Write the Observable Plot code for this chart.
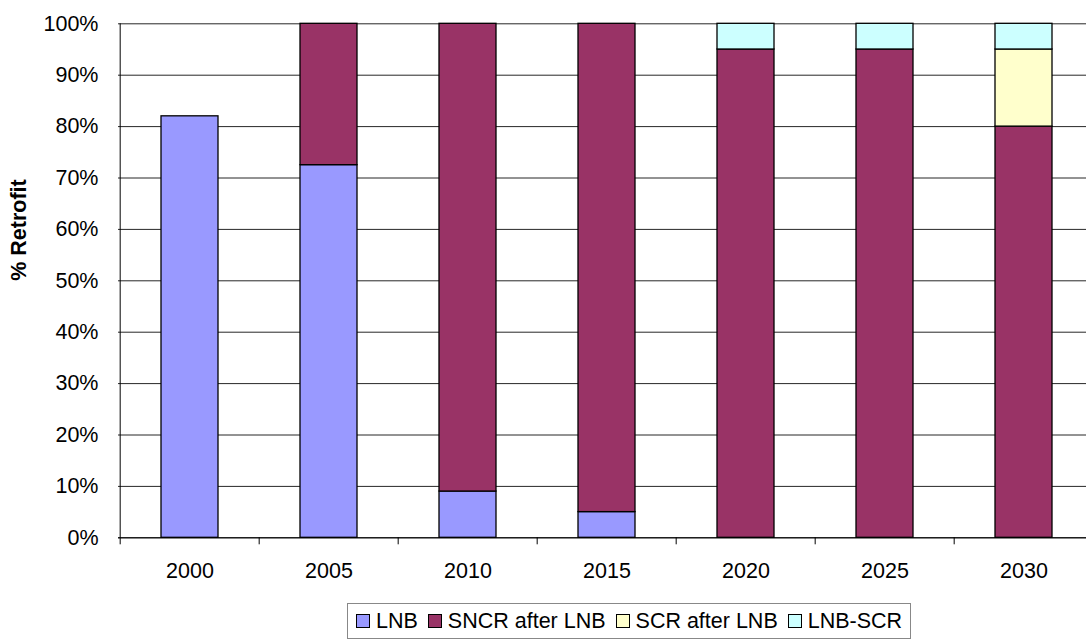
<!DOCTYPE html>
<html>
<head>
<meta charset="utf-8">
<script src="https://cdn.jsdelivr.net/npm/d3@7"></script>
<script src="https://cdn.jsdelivr.net/npm/@observablehq/plot@0.6"></script>
<style>
  html, body { margin: 0; padding: 0; background: #fff; overflow: hidden; }
  #wrap { position: relative; width: 1086px; height: 639px; font-family: Arial, "Liberation Sans", sans-serif; }
  #legend { position: absolute; left: 347px; top: 603px; height: 36px; box-sizing: border-box;
    border: 1px solid #888; display: flex; align-items: center; padding: 0 8px 0 8px; font-size: 21.5px; color: #000; white-space: nowrap; }
  .item { display: flex; align-items: center; margin-right: 10px; }
  .item:last-child { margin-right: 0; }
  .sw { width: 12px; height: 12px; border: 1px solid #000; margin-right: 6px; }
</style>
</head>
<body>
<div id="wrap">
  <div id="chart"></div>
  <div id="legend"></div>
</div>
<script>
const years = ["2000", "2005", "2010", "2015", "2020", "2025", "2030"];
const seriesNames = ["LNB", "SNCR after LNB", "SCR after LNB", "LNB-SCR"];
const seriesColors = ["#9999FF", "#993366", "#FFFFCC", "#CCFFFF"];
const lnb       = [82, 72.5, 9, 5, 0, 0, 0];
const sncr      = [0, 27.5, 91, 95, 95, 95, 80];
const scrAfter  = [0, 0, 0, 0, 0, 0, 15];
const lnbScr    = [0, 0, 0, 0, 5, 5, 5];
const yTicks = [0, 10, 20, 30, 40, 50, 60, 70, 80, 90, 100];
const yLabel = "% Retrofit";

const seriesValues = [lnb, sncr, scrAfter, lnbScr];
const data = [];
seriesNames.forEach((s, si) => {
  years.forEach((yr, i) => {
    const v = seriesValues[si][i];
    if (v > 0) data.push({year: yr, series: s, value: v});
  });
});

const W = 1086, H = 600;
const x0 = 118, x1 = 1095.5;
const step = (x1 - x0) / years.length;
const yTop = 23.3, yBot = 537.3;
const tickUnits = 7 / ((yBot - yTop) / 100);

const chart = Plot.plot({
  width: W,
  height: H,
  marginLeft: x0,
  marginRight: 0,
  marginTop: yTop,
  marginBottom: H - yBot,
  style: {fontFamily: 'Arial, "Liberation Sans", sans-serif', fontSize: "21.5px", color: "#000", background: "#fff"},
  x: {type: "band", domain: years, range: [x0, x1], paddingInner: 0.59, paddingOuter: 0.295, align: 0.5},
  y: {domain: [0, 100]},
  color: {domain: seriesNames, range: seriesColors},
  marks: [
    Plot.gridY(yTicks, {stroke: "#000", strokeOpacity: 0.85, strokeWidth: 1}),
    Plot.barY(data, Plot.stackY({order: seriesNames}, {
      x: "year", y: "value", z: "series", fill: "series",
      stroke: "#000", strokeWidth: 1.3
    })),
    Plot.ruleX([years[0]], {x: d => d, dx: -step / 2, y1: 100, y2: 0, stroke: "#000", strokeWidth: 1}),
    Plot.ruleY([0], {stroke: "#000", strokeWidth: 1}),
    Plot.ruleX(years, {x: d => d, dx: -step / 2, y1: 0, y2: -tickUnits, stroke: "#000", strokeWidth: 1}),
    Plot.ruleX([years[years.length - 1]], {x: d => d, dx: step / 2, y1: 0, y2: -tickUnits, stroke: "#000", strokeWidth: 1}),
    Plot.ruleY(yTicks, {y: d => d, x1: x0 - 7, x2: x0, stroke: "#000", strokeWidth: 1}),
    Plot.axisY(yTicks, {tickFormat: d => d + "%", tickSize: 0, tickPadding: 20, fontSize: 21.5, label: null, fill: "#000"}),
    Plot.axisX({tickSize: 0, tickPadding: 25, fontSize: 21.5, label: null, fill: "#000"}),
    Plot.text([yLabel], {frameAnchor: "left", rotate: -90, dx: -99, fontWeight: "bold", fontSize: 21.5, fill: "#000"})
  ]
});
document.getElementById("chart").appendChild(chart);

const legend = document.getElementById("legend");
seriesNames.forEach((s, i) => {
  const item = document.createElement("div");
  item.className = "item";
  const sw = document.createElement("div");
  sw.className = "sw";
  sw.style.background = seriesColors[i];
  const t = document.createElement("span");
  t.textContent = s;
  item.appendChild(sw);
  item.appendChild(t);
  legend.appendChild(item);
});
</script>
</body>
</html>
